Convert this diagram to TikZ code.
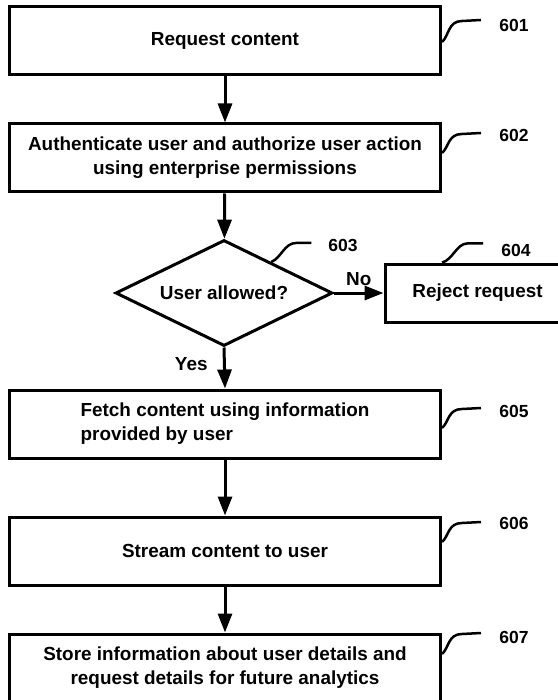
\documentclass[tikz,border=0pt]{standalone}
\usepackage{fontspec}
\setmainfont{Liberation Sans}
\usetikzlibrary{shapes.geometric,arrows.meta,calc}

\begin{document}
\begin{tikzpicture}[x=1pt,y=-1pt,
    font=\fontsize{18.9}{24}\selectfont\bfseries,
    caja/.style={draw,line width=3pt,minimum width=431pt,minimum height=68pt,inner sep=0pt,align=center},
    rombo/.style={draw,diamond,aspect=2.05,line width=3pt,minimum width=217pt,minimum height=106pt,inner sep=0pt},
    flecha/.style={line width=3pt,-{Triangle[length=19pt,width=14pt]}},
    guia/.style={line width=2.5pt},
    numero/.style={font=\fontsize{17.5}{20}\selectfont\bfseries}]
  \useasboundingbox (0,0) rectangle (557,700);
  % pasos
  \node[caja] (pedir) at (225,41) {Request content};
  \node[caja] (autent) at (225,158) {Authenticate user and authorize user action\\using enterprise permissions};
  \node[rombo] (permiso) at (224,293) {User allowed?};
  \node[draw,line width=3pt,minimum width=185pt,minimum height=58pt,inner sep=0pt] (rechazo) at (477.5,293) {Reject request};
  \node[caja,align=left] (buscar) at (225,424) {Fetch content using information\\provided by user};
  \node[caja] (enviar) at (225,551) {Stream content to user};
  \node[caja] (guardar) at (225,668) {Store information about user details and\\request details for future analytics};
  % flechas
  \draw[flecha] (pedir) -- (autent);
  \draw[flecha] (autent) -- (permiso);
  \draw[flecha] (permiso.east) -- node[above=2pt] {No} (rechazo.west);
  \draw[flecha] (permiso.south) -- node[pos=0.4,left=12pt] {Yes} (buscar.north);
  \draw[flecha] (buscar) -- (enviar);
  \draw[flecha] (enviar) -- (guardar);
  % numeros
  \node[numero] (n601) at (514,25) {601};
  \node[numero] (n602) at (514,135) {602};
  \node[numero] (n603) at (343,245) {603};
  \node[numero] (n604) at (516,250) {604};
  \node[numero] (n605) at (514,411) {605};
  \node[numero] (n606) at (514,523) {606};
  \node[numero] (n607) at (514,637) {607};
  \draw[guia] ([yshift=-1pt]pedir.east) .. controls +(7,-6) and +(-14,0) .. ++(20,-21) -- ++(19,-1);
  \draw[guia] ([yshift=5pt]autent.east) .. controls +(7,-6) and +(-14,0) .. ++(20,-19) -- ++(19,-1);
  \draw[guia] ($(permiso.north)!0.43!(permiso.east)$) .. controls +(10,-4) and +(-12,0) .. ++(25,-19) -- ++(15,0);
  \draw[guia] ([xshift=-35.5pt]rechazo.north) .. controls +(10,-2) and +(-10,0) .. ++(25,-19) -- ++(16,0);
  \draw[guia] ([yshift=-4pt]buscar.east) .. controls +(7,-6) and +(-14,0) .. ++(20,-19) -- ++(19,-1);
  \draw[guia] ([yshift=9pt]enviar.east) .. controls +(7,-6) and +(-14,0) .. ++(20,-19) -- ++(19,-1);
  \draw[guia] ([yshift=14pt]guardar.east) .. controls +(7,-6) and +(-14,0) .. ++(20,-20) -- ++(19,-1);
\end{tikzpicture}
\end{document}
